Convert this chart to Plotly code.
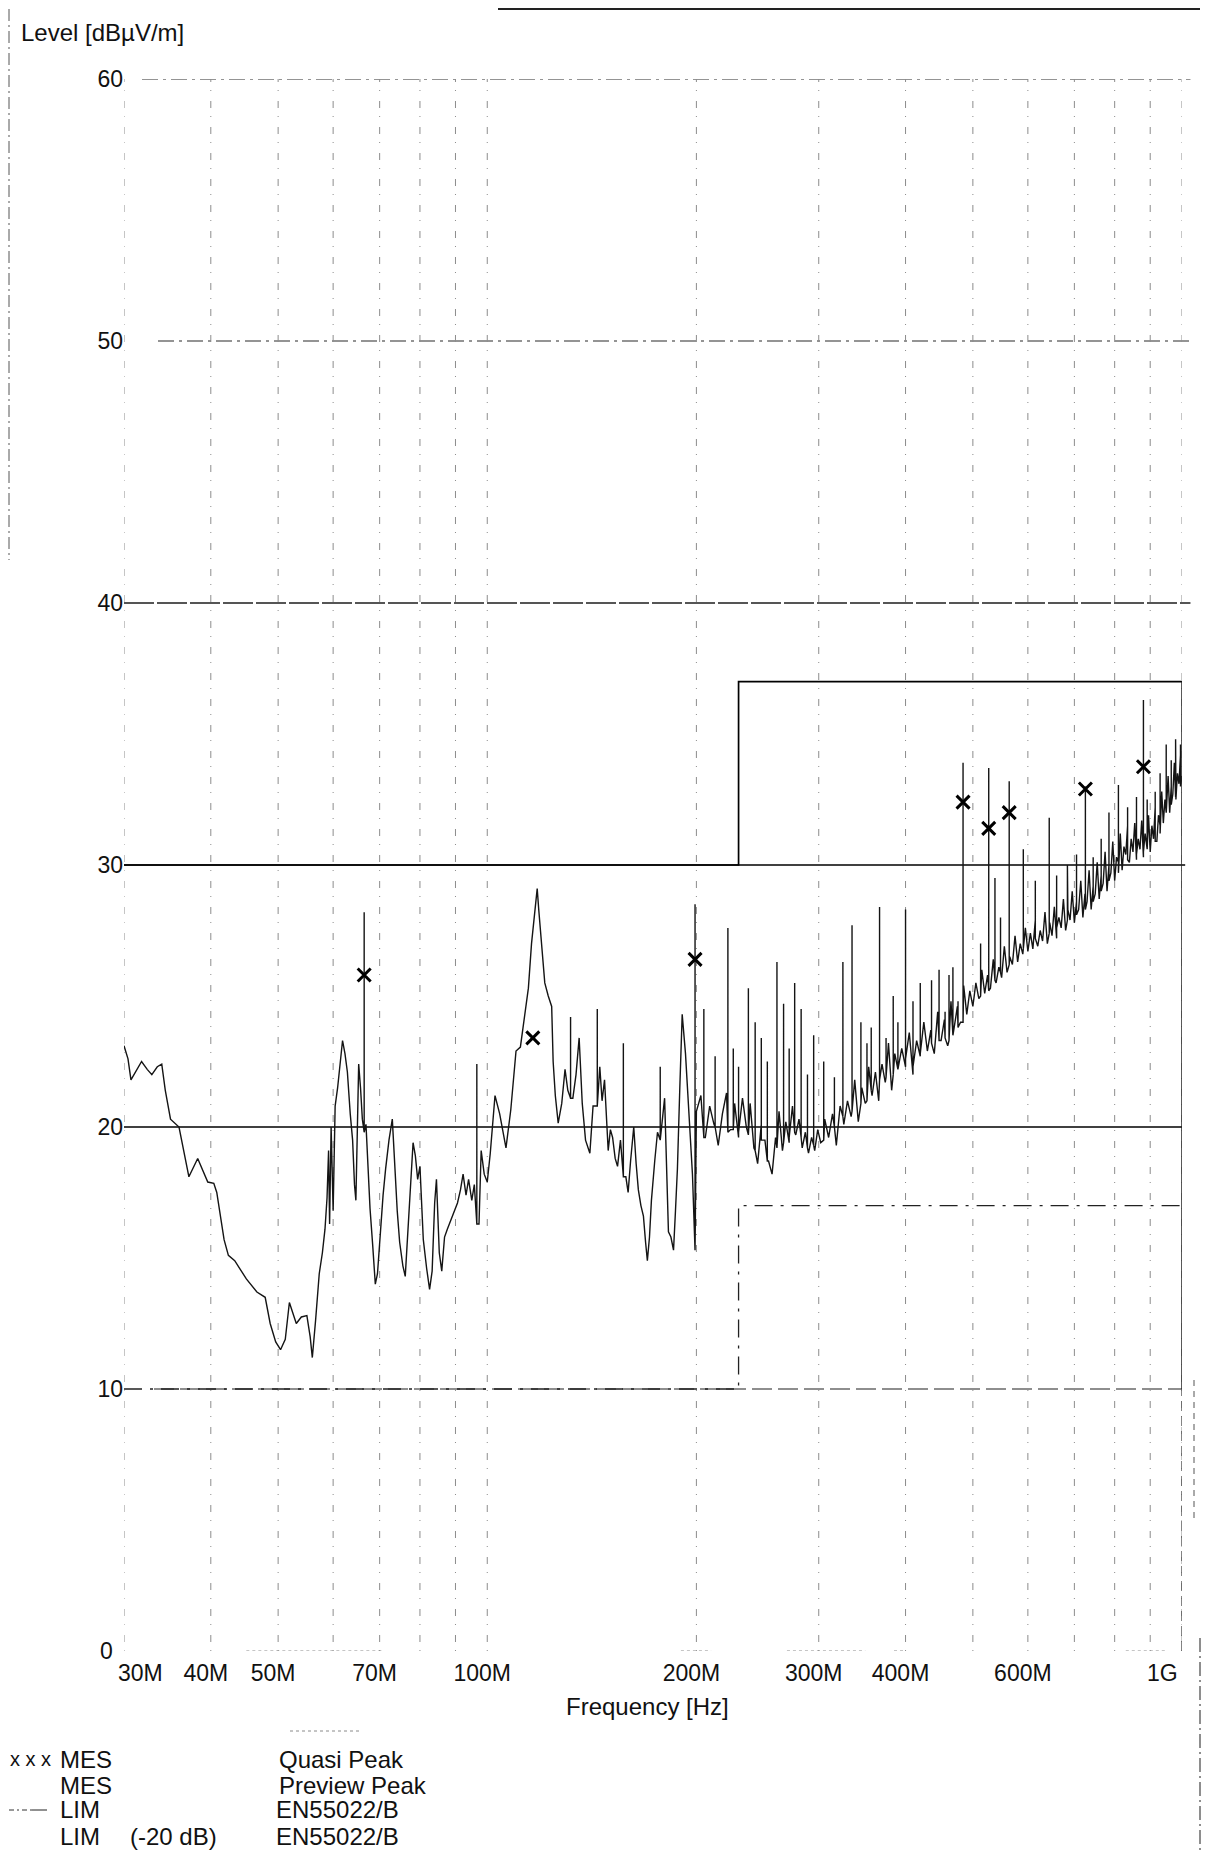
import math
import plotly.graph_objects as go

# ---------------- data (MHz, dBuV/m) ----------------
# MES Preview Peak, 30-200 MHz
pp_low_freq = [
    30.0, 30.4, 30.7, 31.3, 31.8, 32.4, 32.9, 33.5, 34.0, 34.4,
    35.0, 36.0, 36.6, 37.2, 38.3, 39.0, 39.6, 40.4, 40.8, 41.8,
    42.4, 43.3, 45.0, 46.6, 47.9, 48.7, 49.6, 50.4, 51.2, 51.9,
    53.1, 54.0, 55.0, 55.6, 56.0, 56.6, 57.3, 57.9, 58.4, 58.8,
    59.1, 59.3, 59.6, 60.0, 60.4, 60.9, 61.3, 61.9, 62.4, 62.9,
    63.5, 64.0, 64.4, 64.7, 65.0, 65.3, 65.7, 66.1, 66.9, 67.3,
    67.8, 68.4, 69.0, 69.5, 70.1, 70.8, 71.4, 72.2, 73.0, 73.6,
    74.2, 74.8, 75.6, 76.2, 77.0, 77.6, 78.2, 78.8, 79.4, 80.0,
    80.9, 81.8, 82.6, 83.3, 84.0, 84.5, 85.3, 86.0, 86.8, 87.6,
    89.0, 90.6, 91.5, 92.3, 93.2, 94.0, 95.0, 95.8, 97.3, 98.0,
    99.0, 100.0, 101.0, 102.6, 104.2, 105.3, 106.4, 108.1, 110.0, 111.6,
    113.4, 114.6, 115.8, 116.8, 118.0, 118.6, 120.0, 121.0, 122.4, 123.8,
    124.4, 125.3, 126.5, 128.0, 129.4, 130.6, 132.8, 134.2, 135.6, 137.0,
    138.5, 140.5, 142.0, 145.2, 146.3, 147.5, 149.3, 150.4, 151.5, 152.8,
    154.0, 155.5, 158.3, 159.5, 160.8, 162.5, 163.8, 165.0, 166.4, 167.8,
    169.0, 170.0, 171.2, 172.3, 174.2, 175.8, 180.0, 181.2, 182.3, 183.8,
    185.4, 186.6, 187.8, 189.3, 190.8, 192.9, 194.5, 196.0, 197.4,
]
pp_low_level = [
    23.1, 22.6, 21.8, 22.2, 22.5, 22.2, 22.0, 22.3, 22.4, 21.4,
    20.3, 20.0, 19.0, 18.1, 18.8, 18.3, 17.9, 17.85, 17.5, 15.7,
    15.1, 14.9, 14.2, 13.7, 13.5, 12.5, 11.8, 11.5, 11.9, 13.3,
    12.5, 12.75, 12.8, 12.0, 11.2, 12.6, 14.4, 15.2, 16.1, 17.3,
    19.1, 16.3, 20.0, 16.8, 20.8, 21.5, 22.3, 23.3, 22.8, 22.1,
    20.5, 19.5, 17.8, 17.2, 19.8, 22.4, 21.5, 20.3, 20.1, 18.5,
    16.9, 15.5, 14.0, 14.4, 16.0, 17.4, 18.4, 19.5, 20.3, 18.4,
    16.8, 15.6, 14.7, 14.3, 16.2, 18.0, 19.4, 18.9, 18.0, 18.5,
    15.7, 14.6, 13.8, 14.5, 17.1, 18.0, 15.2, 14.5, 15.8, 16.1,
    16.6, 17.1, 17.6, 18.2, 17.4, 18.0, 17.2, 17.8, 16.3, 19.1,
    18.2, 17.9, 19.0, 21.2, 20.5, 19.8, 19.2, 20.65, 22.9, 23.05,
    24.3, 25.3, 27.0, 28.0, 29.1, 28.3, 26.75, 25.5, 25.0, 24.6,
    22.5, 21.2, 20.15, 20.9, 22.2, 21.4, 21.1, 22.0, 23.4, 20.9,
    19.5, 19.0, 20.8, 22.3, 21.0, 21.8, 19.1, 19.9, 19.6, 18.8,
    18.5, 19.5, 18.1, 17.5, 18.7, 20.0, 18.6, 17.6, 17.0, 16.6,
    15.6, 14.9, 15.8, 17.2, 18.7, 19.8, 21.1, 18.5, 16.0, 15.8,
    15.3, 16.8, 18.4, 21.5, 24.3, 22.8, 21.0, 19.6, 18.2,
]

# MES Preview Peak, 200-500 MHz
pp_mid_freq = [
    200, 203, 206, 209, 212, 215, 218, 221, 224, 227,
    230, 233, 236, 239, 242, 245, 248, 251, 254, 257,
    260, 263, 266, 269, 272, 275, 278, 281, 284, 287,
    290, 293, 296, 299, 302, 306, 310, 314, 318, 322,
    326, 330, 334, 338, 342, 346, 350, 354, 358, 362,
    366, 370, 374, 378, 382, 386, 390, 395, 400, 405,
    410, 415, 420, 425, 430, 435, 440, 445, 450, 455,
    460, 465, 470, 475, 480, 485, 490, 495,
]
pp_mid_level = [
    20.6, 21.2, 19.6, 20.8, 20.1, 19.3, 20.5, 21.3, 19.9, 20.9,
    19.6, 21.1, 20.0, 20.9, 19.2, 18.6, 20.1, 19.5, 18.7, 18.2,
    19.6, 20.6, 19.1, 20.2, 19.4, 20.8, 19.7, 20.3, 19.2, 19.8,
    19.0, 19.6, 19.1, 19.9, 19.4, 20.3, 19.6, 20.5, 19.3, 20.8,
    20.1, 21.0, 20.4, 21.8, 20.2, 21.5, 20.9, 22.3, 21.2, 22.1,
    21.0, 22.4, 21.7, 23.2, 21.4, 22.8, 22.2, 23.0, 22.3, 23.6,
    22.0, 23.3, 22.7, 24.0, 22.9, 23.7, 22.8, 24.4, 23.3, 24.1,
    23.1, 24.8, 23.8, 24.6, 24.0, 25.4, 24.3, 25.2,
]

# MES Preview Peak, 500-1000 MHz
pp_high_freq = [
    500, 505, 510, 515, 520, 525, 530, 535, 540, 545,
    550, 555, 560, 565, 570, 575, 580, 585, 590, 595,
    600, 605, 610, 615, 620, 625, 630, 635, 640, 645,
    650, 655, 660, 665, 670, 675, 680, 685, 690, 695,
    700, 705, 710, 715, 720, 725, 730, 735, 740, 745,
    750, 755, 760, 765, 770, 775, 780, 785, 790, 795,
    800, 805, 810, 815, 820, 825, 830, 835, 840, 845,
    850, 855, 860, 865, 870, 875, 880, 885, 890, 895,
    900, 905, 910, 915, 920, 925, 930, 935, 940, 945,
    950, 955, 960, 965, 970, 975, 980, 985, 990, 995,
    1000,
]
pp_high_level = [
    24.6, 25.5, 24.9, 26.0, 25.1, 25.8, 25.3, 26.4, 25.5, 26.1,
    25.7, 26.9, 25.9, 26.5, 26.2, 27.3, 26.3, 27.0, 26.6, 27.6,
    26.7, 27.4, 26.8, 27.9, 26.9, 27.5, 27.1, 28.2, 27.0, 27.8,
    27.3, 28.4, 27.2, 28.0, 27.6, 28.7, 27.5, 28.3, 27.9, 29.0,
    27.8, 28.6, 28.3, 29.4, 28.0, 28.9, 28.6, 29.8, 28.3, 29.2,
    28.9, 30.1, 28.7, 29.6, 29.3, 30.5, 29.0, 30.0, 29.7, 30.9,
    29.4, 30.3, 30.1, 31.2, 29.8, 30.7, 30.4, 31.5, 30.1, 31.0,
    30.5, 31.6, 30.2, 31.0, 30.6, 31.7, 30.3, 31.2, 30.7, 31.9,
    30.5, 31.5, 31.0, 32.2, 30.9, 31.9, 31.5, 32.8, 31.6, 32.5,
    32.2, 33.4, 32.0, 33.0, 32.7, 33.9, 32.5, 33.5, 33.1, 34.2,
    33.4,
]

# narrowband spikes on the preview trace
spike_freq = [66.5, 96.6, 131.8, 144.0, 157.0, 177.4, 199.1,
              205.0, 212.8, 222.0, 226.0, 230.0, 237.6, 243.0,
              248.0, 253.0, 261.2, 267.0, 272.0, 277.0, 283.0,
              289.0, 295.0, 305.0, 316.0, 325.0, 335.0, 345.0,
              352.0, 357.0, 367.0, 375.0, 384.0, 390.0, 400.0,
              410.0, 420.0, 436.0, 447.0, 456.0, 462.0, 468.0,
              476.0, 484.0, 513.0, 527.0, 538.0, 548.0, 564.0,
              591.0, 615.0, 644.0, 660.0, 684.0, 705.0, 726.0,
              745.0, 765.0, 785.0, 810.0, 835.0, 860.0, 880.0,
              891.0, 915.0, 930.0, 949.0, 965.0, 979.0, 995.0]
spike_top = [28.2, 22.4, 24.2, 24.5, 23.2, 22.3, 28.5,
             24.5, 22.7, 27.6, 23.0, 22.3, 25.3, 24.0,
             23.4, 22.5, 26.3, 24.7, 23.0, 25.5, 24.5,
             22.0, 23.5, 22.5, 21.9, 26.3, 27.7, 24.0,
             23.2, 23.8, 28.4, 23.4, 25.0, 24.0, 28.3,
             24.8, 25.5, 25.6, 26.0, 24.4, 25.8, 26.1,
             24.8, 33.9, 27.0, 33.7, 29.5, 28.0, 33.2,
             30.6, 29.4, 31.8, 29.6, 30.0, 30.4, 33.0,
             30.3, 31.0, 32.0, 33.05, 32.2, 32.6, 36.3,
             32.5, 32.8, 33.5, 34.6, 34.0, 34.8, 34.6]
spike_low = [19.8, 16.3, 21.1, 20.8, 18.1, 19.5, 15.3,
             19.6, 20.0, 19.8, 19.9, 19.8, 19.7, 19.1,
             19.5, 18.7, 19.2, 19.4, 19.6, 19.8, 19.6,
             19.2, 19.3, 19.5, 20.0, 20.4, 20.6, 20.9,
             21.0, 21.4, 21.8, 21.9, 22.0, 22.2, 22.6,
             22.3, 22.8, 23.2, 23.3, 23.4, 23.3, 23.5,
             23.8, 24.0, 25.0, 25.2, 25.6, 25.9, 26.2,
             26.8, 27.2, 27.4, 27.6, 27.9, 28.1, 28.3,
             28.6, 29.0, 29.4, 29.7, 30.2, 30.4, 30.5,
             30.6, 30.9, 31.2, 32.0, 32.3, 32.6, 33.0]

# MES Quasi Peak
qp_freq = [66.5, 116.3, 199.1, 484.0, 527.0, 564.0, 726.0, 880.0]
qp_level = [25.8, 23.4, 26.4, 32.4, 31.4, 32.0, 32.9, 33.75]

# LIM EN55022/B and LIM (-20 dB)
lim_freq = [30, 230, 230, 1000]
lim_level = [30, 30, 37, 37]
lim20_level = [10, 10, 17, 17]

# axis ticks
x_tick_freq = [30, 40, 50, 70, 100, 200, 300, 400, 600, 1000]
x_tick_text = ["30M", "40M", "50M", "70M", "100M", "200M", "300M", "400M", "600M", "1G"]
y_tick_vals = [0, 10, 20, 30, 40, 50, 60]
y_tick_text = ["0", "10", "20", "30", "40", "50", "60"]
grid_freq = [30, 40, 50, 60, 70, 80, 90, 100, 200, 300, 400, 500, 600, 700, 800, 900, 1000]

# ---------------- build preview trace ----------------
base_f = pp_low_freq + pp_mid_freq + pp_high_freq
base_v = pp_low_level + pp_mid_level + pp_high_level
assert len(base_f) == len(base_v), (len(base_f), len(base_v))
assert len(spike_freq) == len(spike_top) == len(spike_low), (len(spike_freq), len(spike_top), len(spike_low))

segs = [(f, [(f, v)]) for f, v in zip(base_f, base_v)]
segs += [(f, [(f, lo), (f, hi), (f, lo)]) for f, hi, lo in zip(spike_freq, spike_top, spike_low)]
segs.sort(key=lambda s: s[0])
trace_f, trace_v = [], []
for _, pts in segs:
    for f, v in pts:
        trace_f.append(f)
        trace_v.append(v)

# ---------------- layout helpers ----------------
FONT = "Liberation Sans, Arial, Helvetica, sans-serif"
OFF = 8                     # page body margin around the figure
W, H = 1193, 1843
ML, MT = 116, 71
PW, PH = 1058, 1572
MR = W - ML - PW
MB = H - MT - PH


def px(x):   # page pixel -> paper x
    return (x - OFF - ML) / PW


def py(y):   # page pixel -> paper y
    return (H - MB - (y - OFF)) / PH


INK = "#111111"

fig = go.Figure()

fig.add_trace(go.Scatter(
    x=lim_freq, y=lim20_level, mode="lines",
    line=dict(color="#222222", width=1.3, dash="18px,8px,3px,8px"),
    hoverinfo="skip", name="LIM (-20 dB)"))
fig.add_trace(go.Scatter(
    x=lim_freq, y=lim_level, mode="lines",
    line=dict(color="#000000", width=1.7),
    name="LIM EN55022/B"))
fig.add_trace(go.Scatter(
    x=trace_f, y=trace_v, mode="lines",
    line=dict(color="#141414", width=1.4),
    name="MES Preview Peak"))
fig.add_trace(go.Scatter(
    x=qp_freq, y=qp_level, mode="markers",
    marker=dict(symbol="x-thin", size=13, color="#000000",
                line=dict(color="#000000", width=3)),
    name="MES Quasi Peak"))

shapes = []
# horizontal grid
hstyle = {
    10: dict(dash="20px,6px", color="#1e1e1e", x0=px(154), x1=1.0, w=1.2),
    20: dict(dash="solid", color="#000000", x0=0.0, x1=1.0, w=1.4),
    30: dict(dash="solid", color="#000000", x0=0.0, x1=1.003, w=1.4),
    40: dict(dash="30px,3px", color="#1e1e1e", x0=0.0, x1=1.008, w=1.3),
    50: dict(dash="16px,5px,3px,5px", color="#2a2a2a", x0=px(158), x1=1.008, w=1.2),
    60: dict(dash="16px,5px,3px,5px", color="#2a2a2a", x0=px(142), x1=1.008, w=1.2),
}
for yv, st in hstyle.items():
    shapes.append(dict(type="line", xref="paper", yref="y", x0=st["x0"], x1=st["x1"],
                       y0=yv, y1=yv, layer="below",
                       line=dict(color=st["color"], width=st["w"], dash=st["dash"])))
# vertical grid
for f in grid_freq:
    shapes.append(dict(type="line", xref="x", yref="paper", x0=f, x1=f, y0=0, y1=1,
                       layer="below",
                       line=dict(color="#8c8c8c", width=1, dash="1px,8px,7px,10px")))
# right end of the limit lines at 1 GHz
shapes.append(dict(type="line", xref="x", yref="y", x0=1000, x1=1000, y0=10, y1=37,
                   line=dict(color="#222222", width=1.5)))
shapes.append(dict(type="line", xref="x", yref="y", x0=1000, x1=1000, y0=0, y1=10,
                   line=dict(color="#333333", width=1.2, dash="10px,5px")))
# faint dotted fragments along the baseline (scan)
for a, b in [(45, 71), (190, 210), (270, 350), (385, 400), (830, 950)]:
    shapes.append(dict(type="line", xref="x", yref="y", x0=a, x1=b, y0=0, y1=0,
                       line=dict(color="#8a8a8a", width=1, dash="dot")))
shapes.append(dict(type="line", xref="paper", yref="paper", x0=px(290), x1=px(362),
                   y0=py(1731), y1=py(1731),
                   line=dict(color="#8a8a8a", width=1, dash="dot")))
# page frame lines from the scan
shapes.append(dict(type="line", xref="paper", yref="paper", x0=px(498), x1=px(1200),
                   y0=py(9), y1=py(9), line=dict(color="#222222", width=2)))
shapes.append(dict(type="line", xref="paper", yref="paper", x0=px(9), x1=px(9),
                   y0=py(9), y1=py(560), line=dict(color="#555555", width=1, dash="12px,4px,2px,4px")))
shapes.append(dict(type="line", xref="paper", yref="paper", x0=px(1200), x1=px(1200),
                   y0=py(1638), y1=py(1850), line=dict(color="#444444", width=1.2, dash="14px,4px,2px,4px")))
shapes.append(dict(type="line", xref="paper", yref="paper", x0=px(1194), x1=px(1194),
                   y0=py(1380), y1=py(1520), line=dict(color="#555555", width=1, dash="6px,5px")))
# legend line sample for LIM
shapes.append(dict(type="line", xref="paper", yref="paper", x0=px(9), x1=px(32),
                   y0=py(1810), y1=py(1810), line=dict(color="#333333", width=1, dash="5px,3px,2px,3px")))
shapes.append(dict(type="line", xref="paper", yref="paper", x0=px(32), x1=px(47),
                   y0=py(1810), y1=py(1810), line=dict(color="#222222", width=1)))


def txt(x, y, s, size=23, anchor="left"):
    return dict(xref="paper", yref="paper", x=px(x), y=py(y), text=s, showarrow=False,
                xanchor=anchor, yanchor="middle",
                font=dict(family=FONT, size=size, color=INK))


# edge tick labels placed inside the frame, as in the original print
edge_labels = [
    txt(140, 1673, x_tick_text[0], 23, "center"),
    txt(1162, 1673, x_tick_text[-1], 23, "center"),
    txt(106, 1651, y_tick_text[0], 23, "center"),
]
tick_text_x = [""] + x_tick_text[1:-1] + [""]
tick_text_y = [""] + y_tick_text[1:]

annotations = edge_labels + [
    txt(19, 33, "Level [dBµV/m]", 24),
    txt(647, 1706, "Frequency [Hz]", 24, "center"),
    txt(8, 1759, "x x x", 20),
    txt(58, 1759, "MES", 24),
    txt(277, 1759, "Quasi Peak", 24),
    txt(58, 1785, "MES", 24),
    txt(277, 1785, "Preview Peak", 24),
    txt(58, 1810, "LIM", 24),
    txt(274, 1810, "EN55022/B", 24),
    txt(58, 1836, "LIM", 24),
    txt(128, 1836, "(-20 dB)", 24),
    txt(274, 1836, "EN55022/B", 24),
]

fig.update_layout(
    width=W, height=H, autosize=False,
    margin=dict(l=ML, r=MR, t=MT, b=MB, pad=0),
    paper_bgcolor="white", plot_bgcolor="white",
    showlegend=False,
    font=dict(family=FONT, color=INK),
    shapes=shapes,
    annotations=annotations,
    xaxis=dict(type="log", range=[math.log10(30), math.log10(1000)],
               tickvals=x_tick_freq, ticktext=tick_text_x, automargin=False,
               showgrid=False, zeroline=False, showline=False,
               ticks="outside", ticklen=1, tickcolor="rgba(0,0,0,0)",
               ticklabelshift=-5,
               tickfont=dict(family=FONT, size=23, color=INK)),
    yaxis=dict(range=[0, 60], tickvals=y_tick_vals, ticktext=tick_text_y, automargin=False,
               showgrid=False, zeroline=False, showline=False,
               ticks="", tickfont=dict(family=FONT, size=23, color=INK)),
)

fig.write_html("out.html")
